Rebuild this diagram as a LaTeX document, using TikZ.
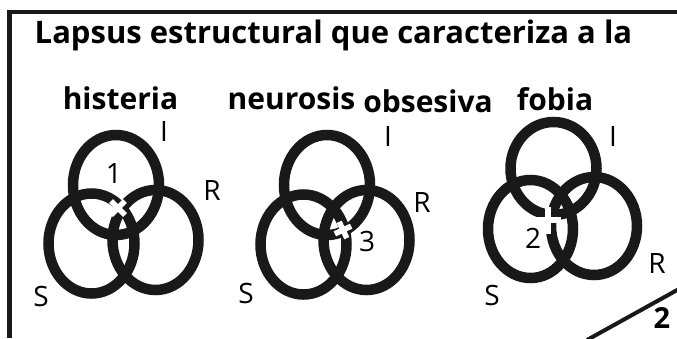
\documentclass[tikz,border=0pt]{standalone}
\usepackage{fontspec}
\setmainfont{Open Sans}
\usetikzlibrary{shapes.geometric}

\begin{document}
\begin{tikzpicture}[x=1pt, y=-1pt,
            ring/.style={draw=black!90, line width=10.5pt, ellipse, inner sep=0pt,
                         minimum width=86pt, minimum height=100pt},
            lbl/.style={inner sep=0pt, font=\fontsize{28}{30}\selectfont},
            head/.style={inner sep=0pt, anchor=base, font=\fontsize{30}{32}\selectfont\bfseries},
            cutmark/.style={draw=white, line width=5.5pt},
            frame/.style={draw=black!90, line width=4.5pt}]
        \useasboundingbox (0,0) rectangle (677,338);
        \draw[frame] (677,12) -- (9.5,12) -- (9.5,338);
        \draw[frame, line width=4pt] (587,340) -- (679,289);
        \node[inner sep=0pt, anchor=base, font=\fontsize{31}{33}\selectfont\bfseries] (title) at (333.5,43)
            {Lapsus estructural que caracteriza a la};
        \node[head] (hist) at (120.5,109) {histeria};
        \node[head] (neur) at (291.5,109) {neurosis};
        \node[head] (obse) at (428,112) {obsesiva};
        \node[head] (fobi) at (555,110) {fobia};
        \node[inner sep=0pt, font=\fontsize{29}{31}\selectfont\bfseries] (page) at (662,318) {2};
        % histeria
        \node[ring] (hI) at (116,185) {};
        \node[ring] (hS) at (91.5,243.5) {};
        \node[ring] (hR) at (155.5,240) {};
        \draw[cutmark] (111,201) -- (125,215) (111,215) -- (125,201);
        \node[lbl] (hIl) at (164,131.5) {I};
        \node[lbl] (hRl) at (212,190) {R};
        \node[lbl] (hSl) at (41,296) {S};
        \node[lbl] (hn) at (114,174) {1};
        % neurosis obsesiva
        \node[ring] (oI) at (327,185) {};
        \node[ring] (oS) at (303.5,244.5) {};
        \node[ring] (oR) at (366.5,240) {};
        \draw[cutmark, rotate around={25:(343,230)}] (334,230) -- (352,230) (343,221) -- (343,239);
        \node[lbl] (oIl) at (388,137) {I};
        \node[lbl] (oRl) at (422,202) {R};
        \node[lbl] (oSl) at (246,293) {S};
        \node[lbl] (on) at (367,241) {3};
        % fobia
        \node[ring, minimum height=93pt] (fI) at (553.5,168.5) {};
        \node[ring, minimum width=85pt, minimum height=98pt] (fS) at (530.5,229) {};
        \node[ring, minimum height=98pt] (fR) at (594,226) {};
        \draw[cutmark] (533,220) -- (561,220) (548,207) -- (548,234);
        \node[lbl] (fIl) at (613,137) {I};
        \node[lbl] (fRl) at (657,263) {R};
        \node[lbl] (fSl) at (492,295) {S};
        \node[lbl] (fn) at (533,238) {2};
\end{tikzpicture}
\end{document}
